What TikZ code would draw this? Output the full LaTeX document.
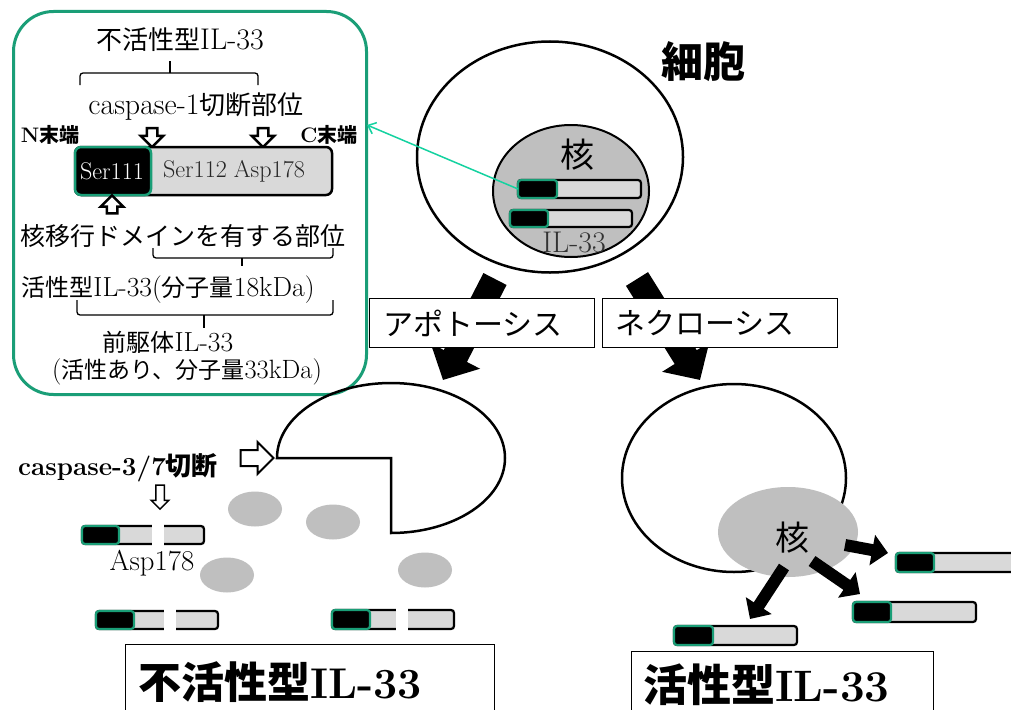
\documentclass[tikz,border=0pt]{standalone}
\usepackage{fontspec}
\newfontfamily\jp{Noto Sans CJK JP}
\newfontfamily\wide{Latin Modern Roman}[Scale=1.15]
\usetikzlibrary{arrows.meta,shapes.arrows,shapes.geometric}
\definecolor{edgegreen}{RGB}{26,158,119}
\definecolor{linkcyan}{RGB}{20,210,160}
\definecolor{barfill}{RGB}{217,217,217}
\definecolor{nucgray}{RGB}{191,191,191}
\newcommand\fsz[1]{\fontsize{#1}{#1}\selectfont}
% IL-33 bar: name, x1, y1, x2, y2, end of the N-terminal block
\newcommand\ilbar[6]{%
  \draw[barbody] (#2,#3) rectangle (#4,#5);
  \draw[barhead] (#2,#3) rectangle (#6,#5);
  \coordinate (#1) at (#2,{(#3+#5)/2});
}
% cleaved IL-33 bar: same as above plus the gap x-range
\newcommand\cutbar[8]{%
  \ilbar{#1}{#2}{#3}{#4}{#5}{#6}
  \fill[white] (#7,{#3-3}) rectangle (#8,{#5+3});
}
\begin{document}
\begin{tikzpicture}[x=1pt,y=-1pt,
  cellshape/.style={ellipse, draw=black, line width=2.5pt, inner sep=0pt},
  barbody/.style={fill=barfill, draw=black, line width=2.2pt, rounded corners=3pt},
  barhead/.style={fill=black, draw=edgegreen, line width=2.2pt, rounded corners=3pt},
  hollow/.style={single arrow, draw=black, fill=white, minimum width=1pt},
  bigarrow/.style={line width=26pt, -{Triangle[length=27pt,width=54pt]}},
  smallarrow/.style={line width=12pt, -{Triangle[length=16pt,width=30pt]}},
  tag/.style={draw=black, line width=1pt, fill=white, inner ysep=0pt, align=left},
  txt/.style={inner sep=0pt},
  bracket/.style={line width=1.3pt, rounded corners=3pt},
]
\useasboundingbox (0,0) rectangle (1011,709);
\fill[white] (0,0) rectangle (1011,709);

% ---------- structure of IL-33 ----------
\node[draw=edgegreen, line width=3pt, rounded corners=40pt, minimum width=353pt,
      minimum height=383pt, anchor=north west] (inset) at (12,10) {};
\coordinate (insetport) at (367,125);

\node[txt, font=\wide\fsz{26}] (t-inactive) at (180,40) {{\jp 不活性型}IL-33};
\draw[bracket] (80,85) -- (80,73) -- (258,73) -- (258,85);
\draw[line width=1.3pt] (170,73) -- (170,61);
\node[txt, font=\wide\fsz{26}] (t-c1) at (196,107) {caspase-1{\jp 切断部位}};
\node[txt, font=\bfseries\fsz{21}] (t-n) at (50,135) {N{\jp\fsz{20}末端}};
\node[txt, font=\bfseries\fsz{21}] (t-c) at (329,135) {C{\jp\fsz{20}末端}};
\node[hollow, line width=2.5pt, minimum height=19pt, inner sep=4pt,
      single arrow head extend=6pt, shape border rotate=270] (cut112) at (152,135) {};
\node[hollow, line width=2.5pt, minimum height=19pt, inner sep=4pt,
      single arrow head extend=6pt, shape border rotate=270] (cut178) at (263,135) {};

\draw[barbody, line width=2.5pt, rounded corners=6pt] (75,147) rectangle (332,195);
\draw[barhead, line width=2.5pt, rounded corners=6pt] (75,147) rectangle (151,195);
\node[txt, font=\wide\fsz{21}, text=white] (t-s111) at (112,171) {Ser111};
\node[txt, font=\wide\fsz{21}, text=black!85] (t-s112) at (234,171) {Ser112\hspace{7pt}Asp178};
\node[hollow, line width=2.5pt, minimum height=18pt, inner sep=4pt,
      single arrow head extend=6pt, shape border rotate=90] (nls) at (112,207) {};

\node[txt, font=\jp\fsz{25}] (t-nls) at (183,236) {核移行ドメインを有する部位};
\draw[bracket] (153,248) -- (153,258) -- (333,258) -- (333,248);
\draw[line width=1.3pt] (242,258) -- (242,266);
\node[txt, font=\wide\fsz{24}] (t-active) at (168,290) {{\jp 活性型}IL-33({\jp 分子量}18kDa)};
\draw[bracket] (77,300) -- (77,315) -- (333,315) -- (333,300);
\draw[line width=1.3pt] (204,315) -- (204,328);
\node[txt, font=\wide\fsz{24}] (t-pre) at (168,342) {{\jp 前駆体}IL-33};
\node[txt, font=\wide\fsz{23}] (t-pre2) at (187,372) {({\jp 活性あり、分子量}33kDa)};

% ---------- intact cell ----------
\node[cellshape, minimum width=266pt, minimum height=231pt] (cell) at (550,157) {};
\node[txt, font=\jp\bfseries\fsz{42}] (t-cell) at (703,62) {細胞};
\node[ellipse, draw=black, line width=2pt, fill=nucgray, minimum width=156pt,
      minimum height=132pt, inner sep=0pt] (nuc) at (571,191) {};
\node[txt, font=\jp\fsz{34}] (t-nuc) at (577,155) {核};
\ilbar{nb1}{518}{180}{641}{198}{557}
\ilbar{nb2}{510}{210}{632}{227}{548}
\node[txt, font=\wide\fsz{26}, text=black!80] (t-il) at (574,243) {IL-33};
\draw[linkcyan, line width=1.5pt, -{Straight Barb[length=7pt,width=12pt]}] (nb1) -- (insetport);

% ---------- fate arrows ----------
\coordinate (apoT) at (495,279);
\coordinate (apoH) at (443,380);
\coordinate (necT) at (637,279);
\coordinate (necH) at (700,380);
\draw[bigarrow] (apoT) -- (apoH);
\draw[bigarrow] (necT) -- (necH);
\node[tag, anchor=north west, minimum height=49pt, text width=197pt, inner xsep=14pt,
      font=\jp\fsz{30}] (apo) at (369,298) {アポトーシス};
\node[tag, anchor=north west, minimum height=49pt, text width=209pt, inner xsep=13pt,
      font=\jp\fsz{30}] (nec) at (602,298) {ネクローシス};

% ---------- apoptotic cell ----------
\draw[line width=2.5pt, line join=miter] (391,533)
  arc[start angle=90, end angle=-180, x radius=114, y radius=75] -- (391,458) -- cycle;
\node[hollow, line width=2pt, minimum height=33pt, inner sep=7pt,
      single arrow head extend=8pt] (pushR) at (253,458) {};
\node[txt, font=\bfseries\fsz{26}] (t-c37) at (118,468) {caspase-3/7{\jp 切断}};
\node[hollow, line width=1.5pt, minimum height=24pt, inner sep=3.5pt,
      single arrow head extend=4.5pt, shape border rotate=270] (cutdown) at (160,495) {};

\fill[nucgray] (255,509) ellipse [x radius=27, y radius=17.5];
\fill[nucgray] (333,522) ellipse [x radius=27, y radius=17.5];
\fill[nucgray] (227,575) ellipse [x radius=27, y radius=17.5];
\fill[nucgray] (425,570) ellipse [x radius=27, y radius=17.5];

\cutbar{cb1}{82}{526}{204}{544}{119}{152}{164}
\cutbar{cb2}{96}{611}{218}{629}{134}{164}{176}
\cutbar{cb3}{332}{610}{454}{629}{370}{396}{408}
\node[txt, font=\wide\fsz{25}] (t-asp) at (152,563) {Asp178};

\node[tag, anchor=north west, minimum height=76pt, text width=343pt, inner xsep=13pt,
      font=\bfseries\fsz{43}] (inact) at (125,644) {{\jp 不活性型}IL-33};

% ---------- necrotic cell ----------
\node[cellshape, minimum width=224pt, minimum height=188pt] (ncell) at (734,478) {};
\node[ellipse, fill=nucgray, minimum width=140pt, minimum height=90pt, inner sep=0pt]
      (nnuc) at (788,532) {};
\node[txt, font=\jp\fsz{34}] (t-nnuc) at (792,538) {核};
\coordinate (r1T) at (845,545);
\coordinate (r1H) at (888,553);
\coordinate (r2T) at (812,561);
\coordinate (r2H) at (860,594);
\coordinate (r3T) at (784,567);
\coordinate (r3H) at (750,619);
\draw[smallarrow] (r1T) -- (r1H);
\draw[smallarrow] (r2T) -- (r2H);
\draw[smallarrow] (r3T) -- (r3H);
\ilbar{rb1}{896}{553}{1025}{572}{934}
\ilbar{rb2}{853}{602}{976}{622}{891}
\ilbar{rb3}{674}{626}{797}{645}{713}

\node[tag, anchor=north west, minimum height=66pt, text width=278pt, inner xsep=12pt,
      font=\bfseries\fsz{44}] (act) at (631,651) {{\jp 活性型}IL-33};
\end{tikzpicture}
\end{document}
